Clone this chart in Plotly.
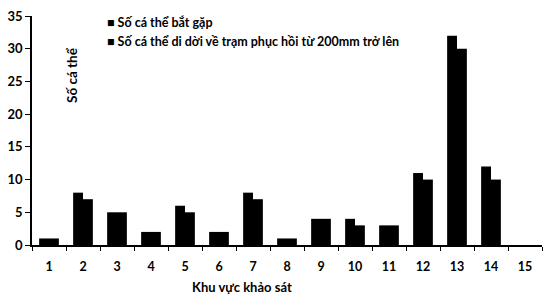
import plotly.graph_objects as go

categories = [str(i) for i in range(1, 16)]
seen = [1, 8, 5, 2, 6, 2, 8, 1, 4, 4, 3, 11, 32, 12, 0]
moved = [1, 7, 5, 2, 5, 2, 7, 1, 4, 3, 3, 10, 30, 10, 0]
series_names = ["Số cá thể bắt gặp", "Số cá thể di dời về trạm phục hồi từ 200mm trở lên"]
y_ticks = [0, 5, 10, 15, 20, 25, 30, 35]

FONT = "Lato"

fig = go.Figure()
fig.add_trace(go.Bar(x=categories, y=seen, name=series_names[0], marker=dict(color="black", line=dict(width=0))))
fig.add_trace(go.Bar(x=categories, y=moved, name=series_names[1], marker=dict(color="black", line=dict(width=0))))

fig.update_layout(
    width=543, height=297,
    margin=dict(l=32, r=1, t=16, b=52),
    paper_bgcolor="white", plot_bgcolor="white",
    barmode="group", bargap=0.42, bargroupgap=0.0,
    showlegend=False,
    font=dict(family=FONT, color="black", size=12),
)
fig.update_xaxes(
    type="category", tickson="boundaries", ticks="outside", ticklen=4, tickwidth=1,
    tickcolor="black", showline=True, linecolor="black", linewidth=1.5,
    tickfont=dict(family=FONT, size=12.5, color="black", weight="bold"),
    showgrid=False, ticklabelstandoff=9, automargin=False,
)
fig.update_yaxes(
    range=[0, 35], tickvals=y_ticks, ticks="outside", ticklen=5, tickwidth=1,
    tickcolor="black", showline=True, linecolor="black", linewidth=1.5,
    tickfont=dict(family=FONT, size=13, color="black", weight="bold"),
    showgrid=False, zeroline=False, automargin=False,
)

annotations = [
    dict(text="Số cá thể", x=62, y=75, textangle=-90,
         font=dict(family=FONT, size=13.5, weight="bold", color="black")),
    dict(text="Khu vực khảo sát", x=242, y=287,
         font=dict(family=FONT, size=13, weight="bold", color="black")),
    dict(text="■ " + series_names[0], x=105, y=23, xanchor="left",
         font=dict(family=FONT, size=12.5, weight="bold", color="black")),
    dict(text="■ " + series_names[1], x=105, y=41, xanchor="left",
         font=dict(family=FONT, size=12.5, weight="bold", color="black")),
]
# convert pixel positions to paper coords
pl, pr, pt, pb = 32, 543 - 1, 16, 297 - 52
for a in annotations:
    a["x"] = (a["x"] - pl) / (pr - pl)
    a["y"] = (pb - a["y"]) / (pb - pt)
    a["xref"] = "paper"
    a["yref"] = "paper"
    a["yanchor"] = "middle"
    a["showarrow"] = False
fig.update_layout(annotations=annotations)

fig.write_html("out.html", config={"displayModeBar": False},
               post_script="document.body.style.margin='0';document.body.style.overflow='hidden';")
